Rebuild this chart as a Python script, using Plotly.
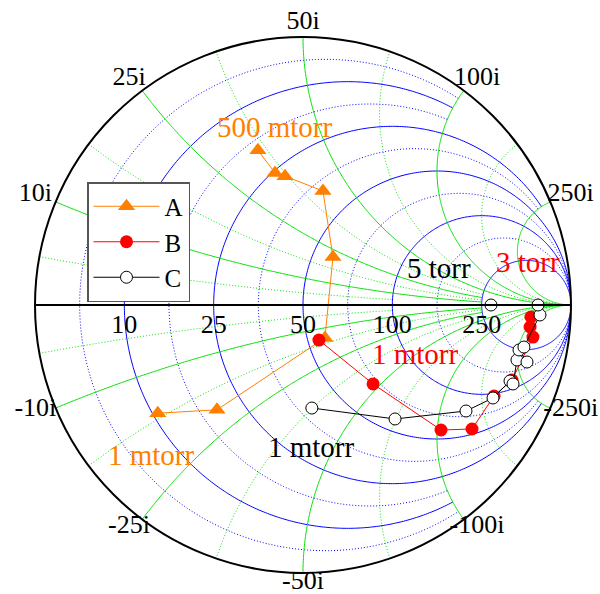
import numpy as np
import plotly.graph_objects as go

Z0 = 50.0
# impedance values in ohms
A_re = [10.7, 19.6, 57.0, 58.2, 39.2, 27.9, 25.5, 18.8]
A_im = [-15.9, -20.6, -14.3, 21.8, 41.0, 35.1, 33.7, 34.0]
B_re = [54.3, 66.8, 57.1, 55.4, 95.2, 123.6, 362.0, 458.0, 564.0]
B_im = [-14.5, -46.6, -103.0, -132.0, -171.7, -220.7, -347.0, -273.0, -184.0]
C_re = [39.3, 57.3, 76.4, 91.9, 122.2, 111.9, 193.7, 177.4, 244.8, 266.6, 733.0, 762.0, 285.0]
C_im = [-35.5, -69.5, -127.6, -169.2, -214.5, -220.5, -248.0, -294.6, -255.0, -283.0, -252.0, 0.0, 0.0]

# normalized grid values and their labels
tick_vals = [0.2, 0.5, 1, 2, 5]
real_labels = ["10", "25", "50", "100", "250"]
imag_labels = ["10i", "25i", "50i", "100i", "250i"]

# clipping of grid lines: value -> limit of the other coordinate (None = unclipped)
major_real_clip = {0.2: 2, 0.5: 5, 1: None, 2: None, 5: None}
minor_real_clip = {1 / 11: 2, 1 / 3: 2, 5 / 7: 5, 7 / 5: None, 3: None}
major_imag_clip = {0.2: 5, 0.5: 5, 1: None, 2: None, 5: None}
minor_imag_clip = {1 / 11: 2, 1 / 3: 5, 5 / 7: 5, 7 / 5: None, 3: None}

FONT = "Liberation Serif"
BLUE = "#0000ff"
GREEN = "#00e000"

W, H = 600, 594
cx, cy, R = 303, 305, 268
# label offsets in pixels (style)
IM_LAB_DX, IM_LAB_DY, IM_LAB_UP = 22, 12, 3
RE_LAB_DOWN = 21


def resistance_curves(clip):
    re_all, im_all = [], []
    for r, X in clip.items():
        t0 = 2 * np.arctan((1 + r) / X) if X else 1e-3
        th = np.linspace(t0, 2 * np.pi - t0, 400)
        x = (1 + r) / np.tan(th / 2)
        re_all += [r] * len(x) + [None]
        im_all += list(x) + [None]
    return re_all, im_all


def reactance_curves(clip):
    re_all, im_all = [], []
    for xv, Rm in clip.items():
        for s in (1, -1):
            p0 = 2 * np.arctan(1 / xv)
            p1 = 2 * np.arctan((Rm + 1) / xv) if Rm else np.pi - 1e-3
            ps = np.linspace(p0, p1, 300)
            r = xv * np.tan(ps / 2) - 1
            r[0] = 0.0
            re_all += list(r) + [None]
            im_all += [s * xv] * len(r) + [None]
    return re_all, im_all


def to_z(g):
    return (1 + g) / (1 - g)


fig = go.Figure()

for fn, clip, color, dash in [
    (resistance_curves, minor_real_clip, BLUE, "1px,2px"),
    (reactance_curves, minor_imag_clip, GREEN, "1px,2px"),
    (resistance_curves, major_real_clip, BLUE, "solid"),
    (reactance_curves, major_imag_clip, GREEN, "solid"),
]:
    gre, gim = fn(clip)
    fig.add_trace(go.Scattersmith(real=gre, imag=gim, mode="lines", showlegend=False,
                                  hoverinfo="skip", line=dict(color=color, width=1, dash=dash)))

# real-axis tick labels, just below the axis
tv = np.array(tick_vals, dtype=float)
g_re = (tv - 1) / (tv + 1) - 1j * RE_LAB_DOWN / R
z_re = to_z(g_re)
fig.add_trace(go.Scattersmith(
    real=z_re.real, imag=z_re.imag, mode="text", text=real_labels,
    textposition="middle center", showlegend=False, hoverinfo="skip", cliponaxis=False,
    textfont=dict(family=FONT, size=26, color="black"),
))

# imaginary tick labels, outside the outer circle
im_vals = np.array(tick_vals + [-v for v in tick_vals], dtype=float)
im_text = imag_labels + ["-" + s for s in imag_labels]
phi = 2 * np.arctan2(1.0, im_vals)
phi = np.where(im_vals < 0, phi - 2 * np.pi, phi)
g_im = np.exp(1j * phi) + (IM_LAB_DX * np.cos(phi) + 1j * (IM_LAB_DY * np.sin(phi) + IM_LAB_UP)) / R
z_im = to_z(g_im)
fig.add_trace(go.Scattersmith(
    real=z_im.real, imag=z_im.imag, mode="text", text=im_text,
    textposition="middle center", showlegend=False, hoverinfo="skip", cliponaxis=False,
    textfont=dict(family=FONT, size=26, color="black"),
))

fig.add_trace(go.Scattersmith(
    real=np.array(A_re) / Z0, imag=np.array(A_im) / Z0, name="A",
    mode="lines+markers",
    line=dict(color="#ff8000", width=1),
    marker=dict(symbol="triangle-up", size=15, color="#ff8000"),
))
fig.add_trace(go.Scattersmith(
    real=np.array(B_re) / Z0, imag=np.array(B_im) / Z0, name="B",
    mode="lines+markers",
    line=dict(color="#ff0000", width=1),
    marker=dict(symbol="circle", size=13, color="#ff0000"),
))
fig.add_trace(go.Scattersmith(
    real=np.array(C_re) / Z0, imag=np.array(C_im) / Z0, name="C",
    mode="lines+markers",
    line=dict(color="#000000", width=1),
    marker=dict(symbol="circle", size=12, color="white", line=dict(color="black", width=1)),
))

dom_x = [(cx - R) / W, (cx + R) / W]
dom_y = [(H - cy - R) / H, (H - cy + R) / H]

fig.update_layout(
    width=W, height=H,
    margin=dict(l=0, r=0, t=0, b=0),
    paper_bgcolor="white",
    font=dict(family=FONT, size=26, color="black"),
    smith=dict(
        domain=dict(x=dom_x, y=dom_y),
        bgcolor="white",
        realaxis=dict(
            tickvals=tick_vals, showticklabels=False, ticks="",
            showline=True, linecolor="black", linewidth=2, showgrid=False,
        ),
        imaginaryaxis=dict(
            tickvals=tick_vals, showticklabels=False, ticks="",
            showline=True, linecolor="black", linewidth=2, showgrid=False,
        ),
    ),
    showlegend=True,
    legend=dict(x=87 / W, y=1 - 182 / H, xanchor="left", yanchor="top",
                bordercolor="#555555", borderwidth=1.5, bgcolor="white", itemwidth=66,
                font=dict(family=FONT, size=25, color="black")),
)

ann = [
    ("500 mtorr", 275, 127, "#ff8000"),
    ("1 mtorr", 151, 455, "#ff8000"),
    ("1 mtorr", 415, 354, "#ff0000"),
    ("1 mtorr", 311, 447, "#000000"),
    ("5 torr", 439, 268, "#000000"),
    ("3 torr", 528, 262, "#ff0000"),
]
for t, px, py, c in ann:
    fig.add_annotation(text=t, x=px / W, y=1 - py / H, xref="paper", yref="paper",
                       xanchor="center", yanchor="middle",
                       showarrow=False, font=dict(family=FONT, size=29, color=c))

fig.write_html("out.html", config={"displayModeBar": False},
               post_script="document.body.style.margin='0px';")
